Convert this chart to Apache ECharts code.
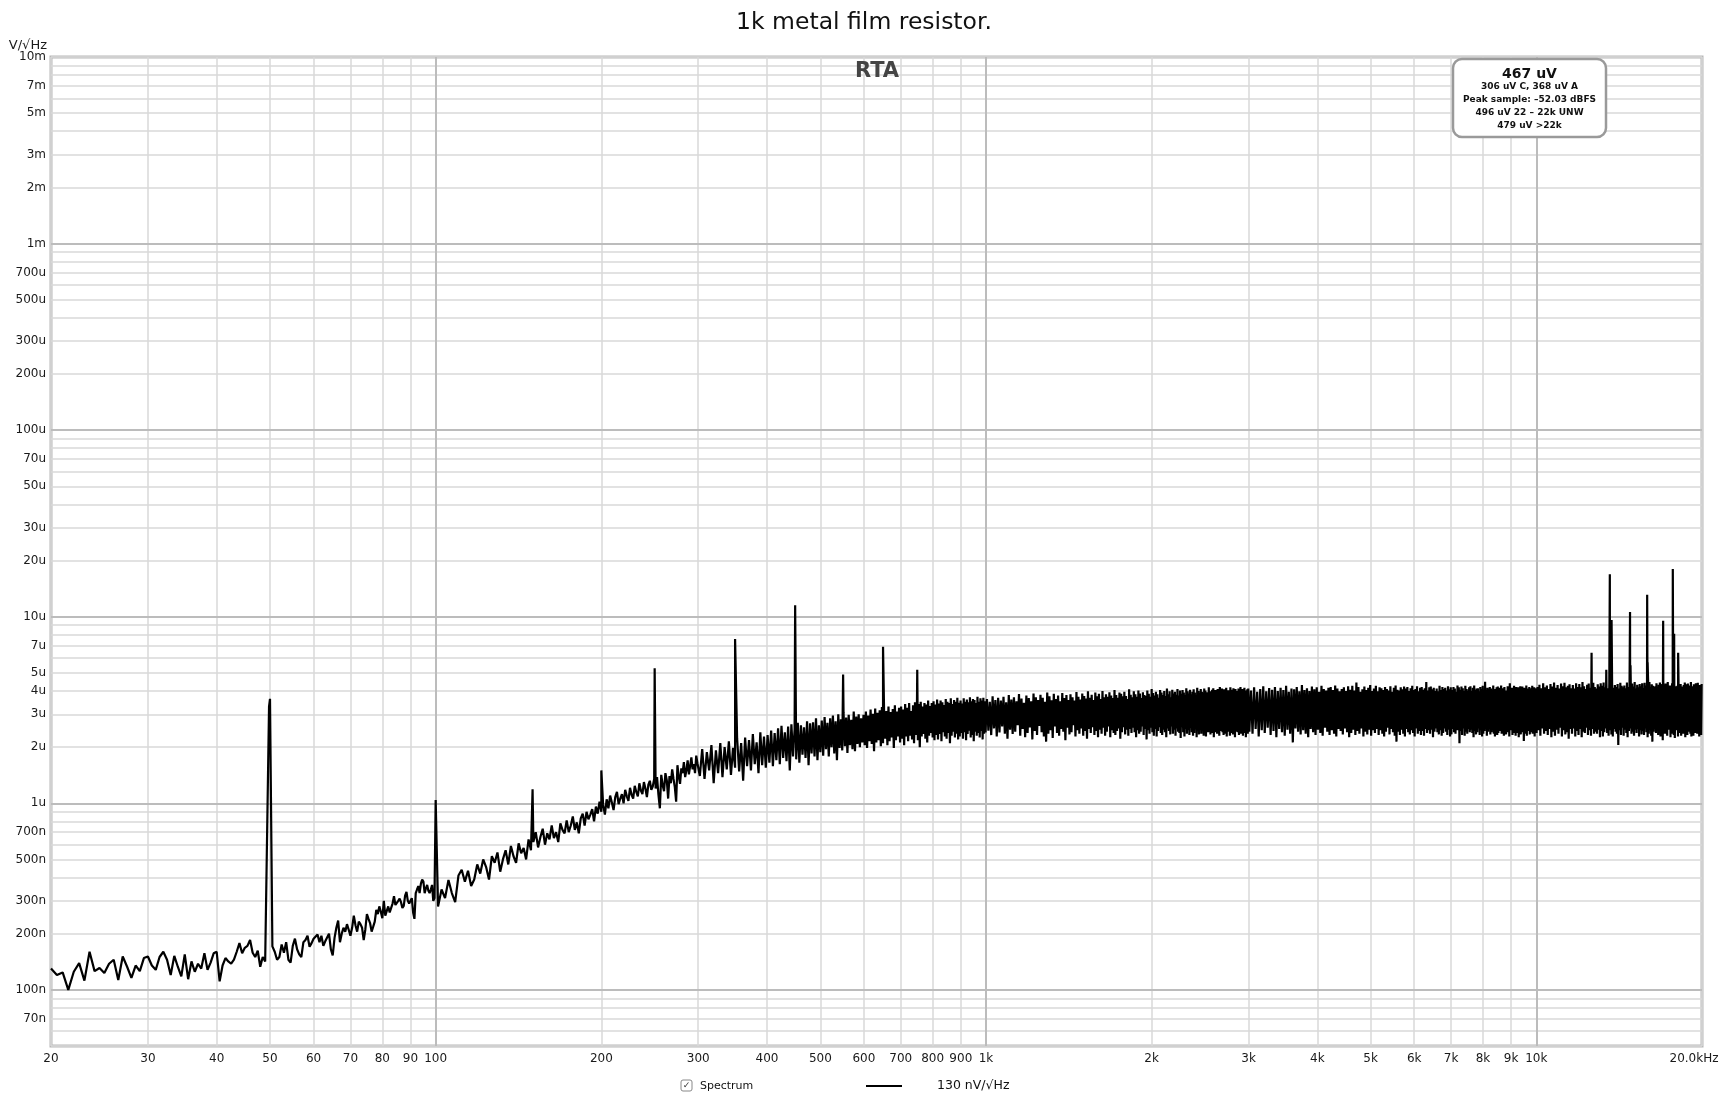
<!DOCTYPE html>
<html><head><meta charset="utf-8">
<script src="https://cdn.jsdelivr.net/npm/echarts@6/dist/echarts.min.js"></script>
<style>html,body{margin:0;padding:0;background:#fff}#c{width:1728px;height:1102px}</style>
</head><body><div id="c"></div>
<script>
// ---- texts ----
const chartTitle = '1k metal film resistor.';
const panelLabel = 'RTA';
const yUnit = 'V/\u221AHz';
const infoLines = ['467 uV', '306 uV C, 368 uV A', 'Peak sample: \u201352.03 dBFS', '496 uV 22 \u2013 22k UNW', '479 uV >22k'];
const legendName = 'Spectrum';
const legendValue = '130 nV/\u221AHz';

// ---- axes (frequency in Hz, amplitude in nV/sqrtHz) ----
const xMin = 20, xMax = 20000;
const yMin = 50, yMax = 10000000;
const xTicks = [20,30,40,50,60,70,80,90,100,200,300,400,500,600,700,800,900,1000,2000,3000,4000,5000,6000,7000,8000,9000,10000,20000];
const xDecades = [100, 1000, 10000];
const yGrid = [50,60,70,80,90,100,200,300,400,500,600,700,800,900,1000,2000,3000,4000,5000,6000,7000,8000,9000,
  10000,20000,30000,40000,50000,60000,70000,80000,90000,100000,200000,300000,400000,500000,600000,700000,800000,900000,
  1000000,2000000,3000000,4000000,5000000,6000000,7000000,8000000,9000000,10000000];
const yLabels = [70,100,200,300,500,700,1000,2000,3000,4000,5000,7000,10000,20000,30000,50000,70000,
  100000,200000,300000,500000,700000,1000000,2000000,3000000,5000000,7000000,10000000];
const yDecades = [100, 1000, 10000, 100000, 1000000];

// ---- spectrum: FFT bands (start Hz, bin step Hz, unit in nV) and amplitudes ----
const segStarts = [20, 50.5, 101, 302, 1004, 3010, 10010];
const segSteps  = [0.5, 0.5, 1.5, 3, 6, 20, 40];
const segUnits  = [1, 1, 1, 10, 10, 10, 10];

// nV
const band20 = [130,120,124,100,125,139,112,160,126,131,
  123,138,145,113,151,133,116,135,126,148,
  151,135,128,150,160,145,120,152,133,118,
  155,114,142,125,138,130,157,128,140,157,
  160,111,135,148,142,138,145,160,178,157,
  168,172,185,158,150,162,133,150,142];

// nV
const band50 = [171,160,145,150,175,158,180,145,140,172,
  188,165,155,150,180,185,195,170,178,188,
  192,198,180,195,172,182,186,200,165,153,
  190,215,235,180,200,215,205,225,210,195,
  215,250,222,205,232,225,215,185,210,255,
  240,228,205,218,232,268,255,280,262,242,
  300,250,265,280,260,262,290,318,285,280,
  300,308,295,275,282,320,335,300,290,300,
  310,260,240,330,345,360,330,370,390,380,
  330,350,365,340,330,345,365,300,310];

// nV
const band100 = [280,345,310,388,330,295,410,440,380,435,360,390,470,
  420,500,455,390,520,480,545,430,500,560,470,590,520,480,610,540,575,500,640,560,
  620,700,580,660,730,600,690,640,760,650,700,620,780,720,690,810,700,760,850,720,
  790,690,830,880,760,900,820,870,930,800,960,880,1020,900,
  980,870,1050,940,1100,1010,920,1080,1150,990,1060,1120,1000,1180,1090,1030,1210,1110,1060,1240,
  1150,1090,1280,1170,1120,1300,1200,1080,1260,1320,1180,1230,1350,
  1200,1380,1110,940,1420,1250,1160,1450,1330,1060,1400,1280,1520,1350,1220,1020,1600,1390,1270,1540,
  1450,1660,1380,1500,1700,1430,1580,1760,1520,1620,1450,1800,1640];

// x10 nV
const band300 = [140,195,135,188,150,205,128,192,145,210,138,200,152,215,142,198,155,222,148,210,132,225,158,218,150,235,162,212,145,240,160,228,155,
  232,165,245,158,238,170,252,162,260,175,240,168,258,150,265,178,250,172,270,165,262,182,255,175,275,160,268,185,272,178,285,170,262,
  188,278,180,290,195,270,178,285,200,295,185,275,170,300,198,282,192,305,202,288,186,298,205,280,195,310,190,292,208,300,200,285,212,
  298,205,310,198,295,215,318,208,302,190,322,212,305,218,315,202,328,210,300,222,312,205,330,215,308,225,320,198,335,218,310,228,325,
  212,330,222,318,205,340,228,325,215,345,230,312,220,335,210,348,232,322,218,340,200,350,228,330,235,345,222,338,212,355,230,332,238,
  345,225,352,218,338,232,360,220,342,235,355,215,348,240,336,228,362,222,350,238,345,210,365,230,340,242,358,225,350,236,368,220,346,
  228,355,238,342,222,365,240,350,218,360,235,348,245,370,225,352,232,362,215,358,242,345,230,372,238,350,225,365,244,355,220,368,236,352,240];

// x10 nV
const band1k = [362,245,350,232,375,252,358,228,368,240,
  355,258,372,236,348,222,380,248,360,235,
  370,242,352,262,385,230,364,250,346,226,
  378,238,366,255,352,220,388,244,370,232,
  358,260,382,240,368,228,350,214,392,236,
  374,246,356,224,386,258,362,238,378,230,
  352,250,390,242,366,218,380,254,358,234,
  384,240,370,262,355,228,395,246,372,236,
  360,252,388,230,376,244,364,222,398,250,
  368,238,382,256,358,232,392,244,374,226,
  386,248,362,236,400,254,370,230,384,242,
  372,258,394,226,378,246,366,238,404,232,
  380,244,368,252,392,222,386,240,374,256,
  396,234,376,248,362,230,408,250,382,238,
  370,254,398,240,384,226,372,246,402,236,
  388,242,366,258,394,232,380,250,376,220,
  402,246,386,236,372,254,410,240,390,230,
  378,250,396,228,384,244,368,256,404,238,
  392,232,380,248,400,240,376,226,412,252,
  384,244,398,234,370,258,406,236,388,248,
  396,230,382,252,410,242,378,238,402,224,
  386,256,404,240,392,228,380,250,414,236,
  398,246,388,232,406,254,384,240,396,230,
  408,238,392,250,380,226,416,244,400,234,
  390,252,410,236,396,248,386,230,412,242,
  402,228,394,256,384,240,418,246,398,234,
  388,250,406,238,414,226,392,252,404,240,
  396,236,410,248,386,230,420,244,400,254,
  412,240,398,232,408,250,390,236,416,228,
  394,254,404,242,396,230,418,248,386,238,
  406,234,414,250,392,226,410,242,400,252,
  398,240,412,232,388,256,420,236,406,246,
  410,230,396,248,416,238,402,226,394,250,
  408,236,412];

// x10 nV
const band3k = [242,402,236,418,250,396,228,410,246,424,
  238,398,254,414,232,406,244,420,226,400,
  250,416,240,404,230,426,248,396,236,412,
  212,408,252,420,242,398,234,430,246,404,
  236,414,226,400,250,422,240,408,232,418,
  248,396,238,426,230,410,254,402,242,416,
  232,420,246,404,236,428,228,412,250,398,
  244,410,234,418,252,400,240,424,226,406,
  238,426,248,402,232,444,244,420,236,396,
  252,408,228,422,242,404,234,416,248,430,
  230,400,246,412,238,426,250,398,232,418,
  246,414,236,404,228,420,242,410,254,402,
  234,424,250,396,240,416,230,428,214,406,
  242,402,232,418,248,408,236,422,228,412,
  250,420,240,400,234,414,246,426,238,404,
  228,410,252,424,236,398,244,416,232,420,
  244,406,230,414,250,446,238,402,246,418,
  236,422,248,408,226,416,242,400,252,412,
  240,398,234,426,246,404,230,420,238,410,
  252,416,242,402,232,424,248,408,228,418,
  234,404,250,420,240,412,236,396,246,428,
  246,418,210,406,244,422,232,414,252,400,
  230,426,242,410,236,402,250,418,240,424,
  248,400,238,416,226,428,244,404,234,412,
  240,414,252,398,232,420,246,410,228,426,
  236,406,244,448,250,402,230,416,242,408,
  252,420,234,412,240,396,248,428,236,404,
  228,410,246,418,232,422,238,400,250,416,
  244,428,236,406,252,414,230,420,242,402,
  234,398,248,424,240,410,228,440,246,406,
  250,416,232,402,244,426,238,412,230,420,
  238,404,252,418,226,408,246,424,234,400,
  246,422,240,410,216,416,250,402,236,428,
  230,412,244,400,248,420,234,414,242,406,
  240,426,236,408,252,418,228,404,246,414];

// x10 nV
const band10k = [238,420,246,432,230,414,252,440,236,418,
  244,428,232,410,250,436,226,422,242,444,
  230,416,248,430,236,412,254,438,228,424,
  246,442,234,418,240,426,222,434,250,414,
  236,430,252,412,228,440,244,420,232,436,
  250,418,226,446,242,424,238,410,254,432,
  232,438,246,416,230,428,250,442,236,420,
  242,412,236,434,248,422,226,440,244,426,
  228,444,240,418,252,432,238,414,230,438,
  246,424,234,440,228,416,250,430,242,420,
  236,436,205,412,246,442,232,426,254,418,
  230,428,248,414,238,444,226,420,244,434,
  252,416,236,438,242,422,230,446,248,412,
  238,432,250,418,228,436,246,424,234,440,
  244,414,232,442,252,428,240,410,226,430,
  236,446,248,420,230,434,214,426,242,418,
  250,424,238,440,244,416,232,432,252,444,
  228,418,246,436,218,422,240,414,236,438,
  242,430,230,446,248,412,252,428,226,420,
  236,440,244,418,232,434,224,424,250,416,
  246,426,228,442,238,414,244,436,230,422,
  252,412,236,430,248,444,226,420,240,434,
  232,438,250,416,242,428,236,446,228,418,
  244,424,230,434,252,412,238,440,246,426,
  236,442,248,420,228,430,244,414,232,436];

const segValues = [band20, band50, band100, band300, band1k, band3k, band10k];

// ---- discrete tones (Hz, nV) ----
const toneFreqs = [49.8, 50, 100, 150, 200, 250, 350, 450, 550, 650, 750,
  12600, 13400, 13600, 13650, 13700, 14800, 14830, 15900, 15930, 17000, 17700, 17750, 17800, 18100];
const toneVals = [3300, 3630, 1040, 1190, 1500, 5300, 7600, 11500, 4900, 6900, 5200,
  6400, 5200, 16900, 5800, 9600, 10600, 5500, 13100, 5700, 9500, 18000, 6200, 8100, 6400];

// ---- build series table ----
const points = [];
segStarts.forEach((s, i) => {
  segValues[i].forEach((v, j) => points.push([s + j * segSteps[i], v * segUnits[i]]));
});
toneFreqs.forEach((f, i) => points.push([f, toneVals[i]]));
points.sort((a, b) => a[0] - b[0]);

const FONT = 'DejaVu Sans';
function fmtX(v) {
  v = Math.round(v);
  if (v >= 20000) return '{e|20.0kHz}';
  if (v >= 1000) return (v / 1000) + 'k';
  return String(v);
}
function fmtY(v) {
  v = Math.round(v);
  if (v < 1000) return v + 'n';
  if (v < 1000000) return (v / 1000) + 'u';
  return (v / 1000000) + 'm';
}

const chart = echarts.init(document.getElementById('c'), null, {renderer: 'canvas'});
const infoX = 1529.5;
chart.setOption({
  animation: false,
  backgroundColor: '#ffffff',
  title: {
    text: chartTitle, left: 'center', top: 6,
    textStyle: {fontSize: 23.5, fontWeight: 'normal', color: '#111', fontFamily: FONT}
  },
  grid: {left: 51, right: 26, top: 57, bottom: 56, show: true, borderColor: '#b8b8b8', borderWidth: 3, backgroundColor: 'transparent'},
  xAxis: {
    type: 'log', logBase: 10, min: xMin, max: xMax,
    axisLine: {show: false},
    axisTick: {show: false, customValues: xTicks},
    splitLine: {show: true, lineStyle: {color: '#d8d8d8', width: 1.5}},
    minorSplitLine: {show: false},
    axisLabel: {
      customValues: xTicks, formatter: fmtX, color: '#1a1a1a', fontSize: 12, fontFamily: FONT, margin: 7,
      rich: {e: {fontSize: 12, fontFamily: FONT, color: '#1a1a1a', padding: [0, 16, 0, 0]}}
    }
  },
  yAxis: {
    type: 'log', logBase: 10, min: yMin, max: yMax,
    axisLine: {show: false},
    axisTick: {show: false, customValues: yGrid},
    splitLine: {show: true, lineStyle: {color: '#d8d8d8', width: 1.5}},
    axisLabel: {customValues: yLabels, formatter: fmtY, color: '#1a1a1a', fontSize: 12, fontFamily: FONT, margin: 5}
  },
  series: [
    {
      type: 'line', name: 'decades', data: [], silent: true, z: 1,
      markLine: {
        silent: true, symbol: 'none', animation: false, z: 1,
        label: {show: false},
        lineStyle: {color: '#bcbcbc', width: 2, type: 'solid'},
        data: xDecades.map(v => ({xAxis: v})).concat(yDecades.map(v => ({yAxis: v})))
      }
    },
    {
      type: 'line', name: legendName, data: points, showSymbol: false, symbol: 'none', silent: true, z: 8,
      lineStyle: {color: '#000', width: 2.2}
    }
  ],
  graphic: [
    {type: 'text', z: 10, x: 47, y: 46, style: {text: yUnit, font: '13px "DejaVu Sans"', fill: '#1a1a1a', align: 'right', verticalAlign: 'middle'}},
    {type: 'text', z: 10, x: 877, y: 72, style: {text: panelLabel, font: 'bold 21px "DejaVu Sans"', fill: '#444', align: 'center', verticalAlign: 'middle'}},
    {type: 'rect', z: 10, shape: {x: 1453, y: 59, width: 153, height: 78, r: 9}, style: {fill: '#fff', stroke: '#9a9a9a', lineWidth: 2.5}},
    {type: 'text', z: 11, x: infoX, y: 74, style: {text: infoLines[0], font: 'bold 14px "DejaVu Sans"', fill: '#111', align: 'center', verticalAlign: 'middle'}},
    {type: 'text', z: 11, x: infoX, y: 87, style: {text: infoLines[1], font: 'bold 9px "DejaVu Sans"', fill: '#111', align: 'center', verticalAlign: 'middle'}},
    {type: 'text', z: 11, x: infoX, y: 100, style: {text: infoLines[2], font: 'bold 9px "DejaVu Sans"', fill: '#111', align: 'center', verticalAlign: 'middle'}},
    {type: 'text', z: 11, x: infoX, y: 113, style: {text: infoLines[3], font: 'bold 9px "DejaVu Sans"', fill: '#111', align: 'center', verticalAlign: 'middle'}},
    {type: 'text', z: 11, x: infoX, y: 126, style: {text: infoLines[4], font: 'bold 9px "DejaVu Sans"', fill: '#111', align: 'center', verticalAlign: 'middle'}},
    {type: 'rect', z: 10, shape: {x: 681, y: 1080, width: 11, height: 11, r: 2}, style: {fill: '#fff', stroke: '#888', lineWidth: 1}},
    {type: 'text', z: 11, x: 686.5, y: 1086, style: {text: '\u2713', font: '9px "DejaVu Sans"', fill: '#333', align: 'center', verticalAlign: 'middle'}},
    {type: 'text', z: 10, x: 700, y: 1086, style: {text: legendName, font: '11px "DejaVu Sans"', fill: '#111', align: 'left', verticalAlign: 'middle'}},
    {type: 'line', z: 10, shape: {x1: 866, y1: 1086, x2: 902, y2: 1086}, style: {stroke: '#000', lineWidth: 2}},
    {type: 'text', z: 10, x: 937, y: 1086, style: {text: legendValue, font: '12.5px "DejaVu Sans"', fill: '#111', align: 'left', verticalAlign: 'middle'}}
  ]
});
</script>
</body></html>
